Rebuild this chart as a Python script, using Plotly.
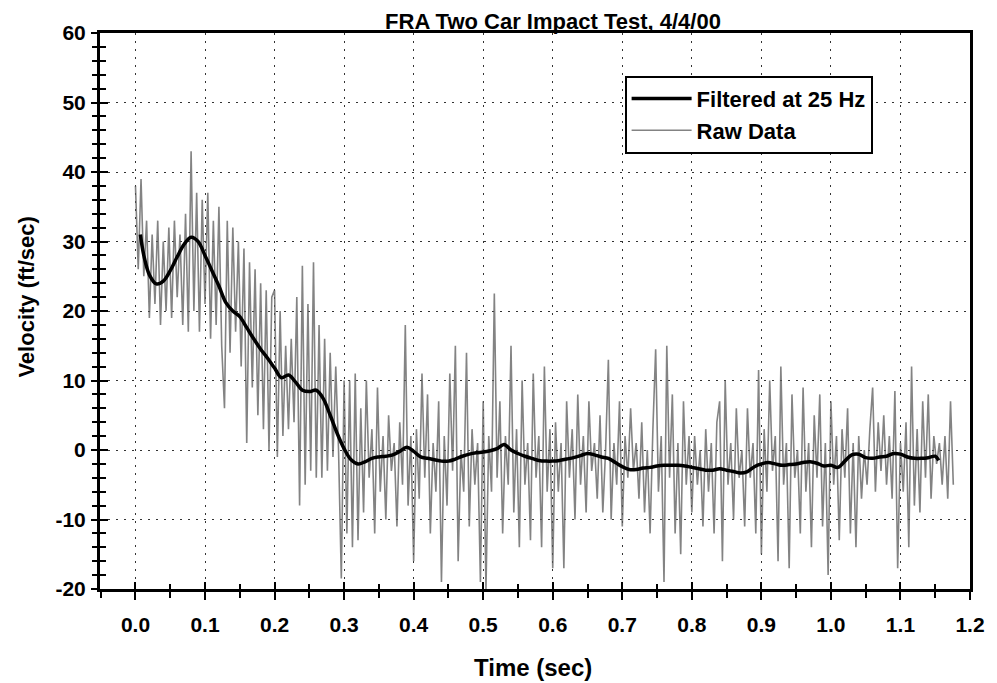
import plotly.graph_objects as go

# ---------------- text ----------------
title_text = "FRA Two Car Impact Test, 4/4/00"
x_title = "Time (sec)"
y_title = "Velocity (ft/sec)"
name_filtered = "Filtered at 25 Hz"
name_raw = "Raw Data"

# ---------------- tick labels ----------------
x_tickvals = [0.0, 0.1, 0.2, 0.3, 0.4, 0.5, 0.6, 0.7, 0.8, 0.9, 1.0, 1.1, 1.2]
x_ticktext = ["0.0", "0.1", "0.2", "0.3", "0.4", "0.5", "0.6", "0.7", "0.8", "0.9", "1.0", "1.1", "1.2"]
y_tickvals = [-20, -10, 0, 10, 20, 30, 40, 50, 60]
y_ticktext = ["-20", "-10", "0", "10", "20", "30", "40", "50", "60"]

# ---------------- filtered series ----------------
filt_t = [0.007, 0.012, 0.02, 0.03, 0.04, 0.05, 0.06, 0.07, 0.08, 0.09,
          0.10, 0.11, 0.12, 0.13, 0.14, 0.15, 0.16, 0.17, 0.18, 0.19,
          0.20, 0.21, 0.22, 0.23, 0.24, 0.25, 0.26, 0.27, 0.28, 0.29,
          0.30, 0.31, 0.32, 0.33, 0.34, 0.35, 0.36, 0.37, 0.38, 0.39,
          0.40, 0.41, 0.42, 0.43, 0.44, 0.45, 0.46, 0.47, 0.48, 0.49,
          0.50, 0.51, 0.52, 0.53, 0.54, 0.55, 0.56, 0.57, 0.58, 0.59,
          0.60, 0.61, 0.62, 0.63, 0.64, 0.65, 0.66, 0.67, 0.68, 0.69,
          0.70, 0.71, 0.72, 0.73, 0.74, 0.75, 0.76, 0.77, 0.78, 0.79,
          0.80, 0.81, 0.82, 0.83, 0.84, 0.85, 0.86, 0.87, 0.88, 0.89,
          0.90, 0.91, 0.92, 0.93, 0.94, 0.95, 0.96, 0.97, 0.98, 0.99,
          1.00, 1.01, 1.02, 1.03, 1.04, 1.05, 1.06, 1.07, 1.08, 1.09,
          1.10, 1.11, 1.12, 1.13, 1.14, 1.15, 1.155]
filt_v = [31.0, 28.0, 25.2, 23.9, 24.3, 25.8, 27.8, 29.6, 30.6, 30.0,
          28.0, 25.8, 23.6, 21.2, 20.0, 19.2, 17.6, 16.0, 14.5, 13.2,
          11.8, 10.4, 10.8, 9.8, 8.6, 8.4, 8.6, 7.4, 5.0, 2.4,
          0.2, -1.4, -2.0, -1.7, -1.2, -1.0, -0.9, -0.7, -0.2, 0.4,
          -0.2, -1.0, -1.2, -1.4, -1.6, -1.6, -1.3, -0.9, -0.6, -0.4,
          -0.3, -0.1, 0.2, 0.8, 0.0, -0.5, -0.9, -1.2, -1.5, -1.6,
          -1.6, -1.5, -1.3, -1.1, -0.8, -0.5, -0.7, -1.0, -1.2, -1.8,
          -2.4, -2.8, -2.8, -2.6, -2.5, -2.3, -2.2, -2.2, -2.2, -2.3,
          -2.5, -2.7, -2.9, -2.9, -2.7, -2.9, -3.1, -3.3, -3.1, -2.4,
          -2.0, -1.8, -2.0, -2.2, -2.1, -2.0, -1.8, -1.7, -1.9, -2.3,
          -2.2, -2.5, -1.6, -0.7, -0.6, -1.1, -1.2, -1.0, -0.9, -0.5,
          -0.6, -1.0, -1.2, -1.2, -1.1, -0.9, -1.5]

raw_t0 = 0.0
raw_dt = 0.004
raw_v = [38, 26, 39, 25, 33, 19, 31, 21, 33, 18,
         30, 20, 32, 19, 33, 22, 31, 18, 34, 17,
         43, 20, 37, 17, 36, 21, 37, 16, 33, 18,
         35, 15, 6, 33, 14, 32, 17, 30, 12, 29,
         1, 27, 9, 26, 5, 24, 3, 23, 0, 22,
         23, -1, 20, 2, 15, 3, 16, 4, 22, -8,
         26.5, -5, 21, -3, 27, -4, 18, -4, 16, -3,
         14, -1, 12, 0, -18.5, 10, -12, 10, -14, 11,
         -13, 6, -9, 10, -4, 3, -12, 9, -6, 2,
         -10, 5, -3, 1, -11, 4, -5, 18, -8, 2,
         -16, 3, -7, 11, -4, 8, -12, 1, -6, 7,
         -19, 2, -8, 11, -3, 15, -16, 0, -6, 14,
         -11, 3, -5, 1, -19, 7, -20, 2, -6, 22.5,
         -4, 7, -12, 2, -5, 15, -9, 3, -14, 10,
         -5, 1, -13, 11, -4, 2, -14, 12, -6, 3,
         -17, 4, -6, 1, -17, 7, -4, 3, -10, 8,
         -5, 2, -9, 7, -3, 1, -7, 5, -9, 0,
         13, -10, 1, -5, 7, -11, 2, -4, 6, -3,
         1, -7, 4, -9, 0, -12, 3, 14.5, -6, 2,
         -19, 15, -4, 8, -12, 1, -15, 7, -5, 2,
         -9, 2, -5, 0, -11, 3, -6, 1, -12, 4,
         7, -16, 10, -5, 1, -10, 6, -4, 0, -11,
         6, -4, 1, -12, 11.5, -15, 3, -6, 10, -3,
         2, -16, 12, -5, 1, -17, 8, -4, 0, -12,
         9, -6, 1, -14, 5, -4, 8, -11, 1, -18,
         7, -5, 2, -13, 3, -4, 6, -12, 1, -14,
         2, -7, 0, -5, 3, 9, -6, 4, -3, 5,
         -5, 2, -7, 8.5, -17, 1, -6, 4, -14, 12,
         -8, 3, -9, 7, -4, 8, -7, 2, -2, 1,
         -5, 2, -7, 7, -5]
raw_t = [round(raw_t0 + i * raw_dt, 4) for i in range(len(raw_v))]

FONT = "Liberation Sans, Arial, sans-serif"
X_RANGE = [-0.051, 1.2]
Y_RANGE = [-20, 60]

fig = go.Figure()
fig.add_trace(go.Scatter(x=raw_t, y=raw_v, mode="lines", name=name_raw,
                         line=dict(color="rgba(90,90,90,0.75)", width=1.6),
                         legendrank=2))
fig.add_trace(go.Scatter(x=filt_t, y=filt_v, mode="lines", name=name_filtered,
                         line=dict(color="black", width=3.5, shape="spline"),
                         legendrank=1))
# helper traces so the overlay axes (inner halves of the crossing ticks) render
fig.add_trace(go.Scatter(x=[0.5], y=[20], xaxis="x2", yaxis="y", mode="markers",
                         marker=dict(opacity=0), showlegend=False, hoverinfo="skip"))
fig.add_trace(go.Scatter(x=[0.5], y=[20], xaxis="x", yaxis="y2", mode="markers",
                         marker=dict(opacity=0), showlegend=False, hoverinfo="skip"))

tickfont = dict(family=FONT, size=21, color="black", weight="bold")
GRID = dict(showgrid=True, gridcolor="#333333", gridwidth=1, griddash="2px,6px")
INNER = "black"

fig.update_layout(
    width=997, height=683,
    margin=dict(l=100, r=20, t=33, b=94),
    paper_bgcolor="white", plot_bgcolor="white",
    title=dict(text=title_text, x=553 / 997, xref="container", xanchor="center",
               y=1 - 21 / 683, yref="container", yanchor="middle",
               font=dict(family=FONT, size=22, color="black", weight="bold")),
    showlegend=True,
    legend=dict(x=0.603, y=0.923, xanchor="left", yanchor="top",
                bgcolor="white", bordercolor="black", borderwidth=2,
                font=dict(family=FONT, size=22, color="black", weight="bold"),
                itemwidth=60, tracegroupgap=0),
    xaxis=dict(range=X_RANGE, tickmode="array", tickvals=x_tickvals, ticktext=x_ticktext,
               ticks="outside", ticklen=8, tickwidth=2, tickcolor="black",
               showline=True, linewidth=3, linecolor="black", mirror=True,
               zeroline=False, tickfont=tickfont, ticklabelstandoff=7,
               minor=dict(tickmode="linear", tick0=0, dtick=0.05, ticks="outside",
                          ticklen=6, tickwidth=2, tickcolor="black", showgrid=False),
               **GRID),
    yaxis=dict(range=Y_RANGE, tickmode="array", tickvals=y_tickvals, ticktext=y_ticktext,
               ticks="outside", ticklen=6, tickwidth=2, tickcolor="black",
               showline=True, linewidth=3, linecolor="black", mirror=True,
               zeroline=False, tickfont=tickfont, ticklabelstandoff=1,
               minor=dict(tickmode="linear", tick0=0, dtick=2, ticks="outside",
                          ticklen=5, tickwidth=2, tickcolor="black", showgrid=False),
               **GRID),
    xaxis2=dict(range=X_RANGE, overlaying="x", anchor="y", side="bottom",
                tickmode="array", tickvals=x_tickvals, ticks="inside", ticklen=7,
                tickwidth=2, tickcolor=INNER, showticklabels=False,
                showgrid=False, showline=False, zeroline=False,
                minor=dict(tickmode="linear", tick0=0, dtick=0.05, ticks="inside",
                           ticklen=5, tickwidth=2, tickcolor=INNER, showgrid=False)),
    yaxis2=dict(range=Y_RANGE, overlaying="y", anchor="x", side="left",
                tickmode="array", tickvals=y_tickvals, ticks="inside", ticklen=8,
                tickwidth=2, tickcolor=INNER, showticklabels=False,
                showgrid=False, showline=False, zeroline=False,
                minor=dict(tickmode="linear", tick0=0, dtick=2, ticks="inside",
                           ticklen=6, tickwidth=2, tickcolor=INNER, showgrid=False)),
    annotations=[
        dict(text=y_title, xref="paper", yref="paper", x=(25 - 100) / 877, y=(589 - 297) / 556,
             xanchor="center", yanchor="middle", textangle=-90, showarrow=False,
             font=dict(family=FONT, size=22, color="black", weight="bold")),
        dict(text=x_title, xref="paper", yref="paper", x=(536 - 100) / 877, y=(589 - 667) / 556,
             xanchor="center", yanchor="middle", showarrow=False,
             font=dict(family=FONT, size=24, color="black", weight="bold")),
    ],
)

fig.write_html("out.html", config={"displayModeBar": False},
               post_script="document.body.style.margin='0px';")
